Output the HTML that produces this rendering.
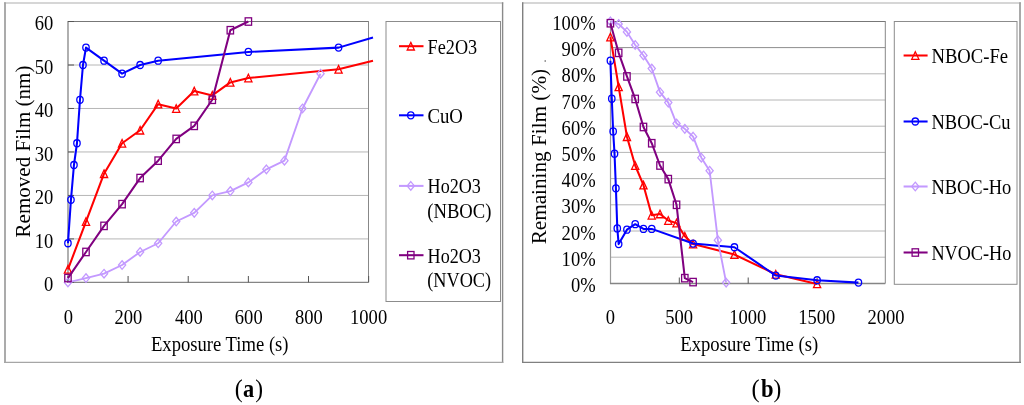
<!DOCTYPE html>
<html><head><meta charset="utf-8"><style>
html,body{margin:0;padding:0;background:#fff;}
svg{display:block;font-family:"Liberation Serif", serif;will-change:transform;}
</style></head><body>
<svg width="1024" height="405" viewBox="0 0 1024 405">
<line x1="4.00" y1="3.00" x2="503.30" y2="3.00" stroke="#c8c8c8" stroke-width="1.6"/>
<line x1="5.00" y1="2.20" x2="5.00" y2="363.00" stroke="#a2a2a2" stroke-width="1.8"/>
<line x1="502.60" y1="2.20" x2="502.60" y2="363.00" stroke="#8a8a8a" stroke-width="1.4"/>
<line x1="4.00" y1="362.30" x2="503.30" y2="362.30" stroke="#a6a6a6" stroke-width="1.3"/>
<line x1="68.00" y1="238.92" x2="368.50" y2="238.92" stroke="#b6b6b6" stroke-width="1"/>
<line x1="68.00" y1="195.44" x2="368.50" y2="195.44" stroke="#b6b6b6" stroke-width="1"/>
<line x1="68.00" y1="151.96" x2="368.50" y2="151.96" stroke="#b6b6b6" stroke-width="1"/>
<line x1="68.00" y1="108.48" x2="368.50" y2="108.48" stroke="#b6b6b6" stroke-width="1"/>
<line x1="68.00" y1="65.00" x2="368.50" y2="65.00" stroke="#b6b6b6" stroke-width="1"/>
<line x1="68.00" y1="21.50" x2="368.50" y2="21.50" stroke="#777" stroke-width="1"/>
<line x1="368.50" y1="21.00" x2="368.50" y2="282.40" stroke="#888" stroke-width="1"/>
<line x1="68.00" y1="21.00" x2="68.00" y2="282.50" stroke="#858585" stroke-width="1.3"/>
<line x1="67.50" y1="282.40" x2="368.50" y2="282.40" stroke="#858585" stroke-width="1.3"/>
<line x1="68.00" y1="282.40" x2="74.00" y2="282.40" stroke="#555" stroke-width="1"/>
<line x1="68.00" y1="238.92" x2="74.00" y2="238.92" stroke="#555" stroke-width="1"/>
<line x1="68.00" y1="195.44" x2="74.00" y2="195.44" stroke="#555" stroke-width="1"/>
<line x1="68.00" y1="151.96" x2="74.00" y2="151.96" stroke="#555" stroke-width="1"/>
<line x1="68.00" y1="108.48" x2="74.00" y2="108.48" stroke="#555" stroke-width="1"/>
<line x1="68.00" y1="65.00" x2="74.00" y2="65.00" stroke="#555" stroke-width="1"/>
<line x1="68.00" y1="21.52" x2="74.00" y2="21.52" stroke="#555" stroke-width="1"/>
<line x1="67.95" y1="282.40" x2="67.95" y2="276.00" stroke="#555" stroke-width="1"/>
<line x1="128.09" y1="282.40" x2="128.09" y2="276.00" stroke="#555" stroke-width="1"/>
<line x1="188.23" y1="282.40" x2="188.23" y2="276.00" stroke="#555" stroke-width="1"/>
<line x1="248.37" y1="282.40" x2="248.37" y2="276.00" stroke="#555" stroke-width="1"/>
<line x1="308.51" y1="282.40" x2="308.51" y2="276.00" stroke="#555" stroke-width="1"/>
<line x1="368.65" y1="282.40" x2="368.65" y2="276.00" stroke="#555" stroke-width="1"/>
<text transform="translate(44.07,291.00) scale(0.8430,1)" font-size="22" font-weight="normal" fill="#000">0</text>
<text transform="translate(34.80,247.52) scale(0.8430,1)" font-size="22" font-weight="normal" fill="#000">10</text>
<text transform="translate(34.80,204.04) scale(0.8430,1)" font-size="22" font-weight="normal" fill="#000">20</text>
<text transform="translate(34.80,160.56) scale(0.8430,1)" font-size="22" font-weight="normal" fill="#000">30</text>
<text transform="translate(34.80,117.08) scale(0.8430,1)" font-size="22" font-weight="normal" fill="#000">40</text>
<text transform="translate(34.80,73.60) scale(0.8430,1)" font-size="22" font-weight="normal" fill="#000">50</text>
<text transform="translate(34.80,30.12) scale(0.8430,1)" font-size="22" font-weight="normal" fill="#000">60</text>
<text transform="translate(63.71,323.60) scale(0.8430,1)" font-size="22" font-weight="normal" fill="#000">0</text>
<text transform="translate(114.53,323.60) scale(0.8430,1)" font-size="22" font-weight="normal" fill="#000">200</text>
<text transform="translate(174.91,323.60) scale(0.8430,1)" font-size="22" font-weight="normal" fill="#000">400</text>
<text transform="translate(234.86,323.60) scale(0.8430,1)" font-size="22" font-weight="normal" fill="#000">600</text>
<text transform="translate(295.00,323.60) scale(0.8430,1)" font-size="22" font-weight="normal" fill="#000">800</text>
<text transform="translate(350.09,323.60) scale(0.8430,1)" font-size="22" font-weight="normal" fill="#000">1000</text>
<text transform="translate(150.94,351.30) scale(0.9089,1)" font-size="20.5" font-weight="normal" fill="#000">Exposure Time (s)</text>
<text transform="translate(29.50,237.43) rotate(-90) scale(1.0030,1.0)" font-size="21" fill="#000">Removed Film (nm)</text>
<polyline points="67.95,269.36 85.99,221.53 104.03,173.70 122.08,143.26 140.12,130.22 158.16,104.13 176.20,108.48 194.24,91.09 212.29,95.44 230.33,82.39 248.37,78.04 338.58,69.35 373.00,60.70" fill="none" stroke="#ff0000" stroke-width="2.05" stroke-linejoin="round" stroke-linecap="butt"/>
<path d="M67.95,265.56 L71.55,273.16 L64.35,273.16 Z" fill="none" stroke="#ff0000" stroke-width="1.3"/>
<path d="M85.99,217.73 L89.59,225.33 L82.39,225.33 Z" fill="none" stroke="#ff0000" stroke-width="1.3"/>
<path d="M104.03,169.90 L107.63,177.50 L100.43,177.50 Z" fill="none" stroke="#ff0000" stroke-width="1.3"/>
<path d="M122.08,139.46 L125.68,147.06 L118.48,147.06 Z" fill="none" stroke="#ff0000" stroke-width="1.3"/>
<path d="M140.12,126.42 L143.72,134.02 L136.52,134.02 Z" fill="none" stroke="#ff0000" stroke-width="1.3"/>
<path d="M158.16,100.33 L161.76,107.93 L154.56,107.93 Z" fill="none" stroke="#ff0000" stroke-width="1.3"/>
<path d="M176.20,104.68 L179.80,112.28 L172.60,112.28 Z" fill="none" stroke="#ff0000" stroke-width="1.3"/>
<path d="M194.24,87.29 L197.84,94.89 L190.64,94.89 Z" fill="none" stroke="#ff0000" stroke-width="1.3"/>
<path d="M212.29,91.64 L215.89,99.24 L208.69,99.24 Z" fill="none" stroke="#ff0000" stroke-width="1.3"/>
<path d="M230.33,78.59 L233.93,86.19 L226.73,86.19 Z" fill="none" stroke="#ff0000" stroke-width="1.3"/>
<path d="M248.37,74.24 L251.97,81.84 L244.77,81.84 Z" fill="none" stroke="#ff0000" stroke-width="1.3"/>
<path d="M338.58,65.55 L342.18,73.15 L334.98,73.15 Z" fill="none" stroke="#ff0000" stroke-width="1.3"/>
<polyline points="67.95,243.27 70.96,199.79 73.96,165.00 76.97,143.26 79.98,99.78 82.98,65.00 85.99,47.61 104.03,60.65 122.08,73.70 140.12,65.00 158.16,60.65 248.37,51.96 338.58,47.61 373.00,37.60" fill="none" stroke="#0000ff" stroke-width="2.05" stroke-linejoin="round" stroke-linecap="butt"/>
<ellipse cx="67.95" cy="243.27" rx="3.2" ry="3.5" fill="none" stroke="#0000ff" stroke-width="1.3"/>
<ellipse cx="70.96" cy="199.79" rx="3.2" ry="3.5" fill="none" stroke="#0000ff" stroke-width="1.3"/>
<ellipse cx="73.96" cy="165.00" rx="3.2" ry="3.5" fill="none" stroke="#0000ff" stroke-width="1.3"/>
<ellipse cx="76.97" cy="143.26" rx="3.2" ry="3.5" fill="none" stroke="#0000ff" stroke-width="1.3"/>
<ellipse cx="79.98" cy="99.78" rx="3.2" ry="3.5" fill="none" stroke="#0000ff" stroke-width="1.3"/>
<ellipse cx="82.98" cy="65.00" rx="3.2" ry="3.5" fill="none" stroke="#0000ff" stroke-width="1.3"/>
<ellipse cx="85.99" cy="47.61" rx="3.2" ry="3.5" fill="none" stroke="#0000ff" stroke-width="1.3"/>
<ellipse cx="104.03" cy="60.65" rx="3.2" ry="3.5" fill="none" stroke="#0000ff" stroke-width="1.3"/>
<ellipse cx="122.08" cy="73.70" rx="3.2" ry="3.5" fill="none" stroke="#0000ff" stroke-width="1.3"/>
<ellipse cx="140.12" cy="65.00" rx="3.2" ry="3.5" fill="none" stroke="#0000ff" stroke-width="1.3"/>
<ellipse cx="158.16" cy="60.65" rx="3.2" ry="3.5" fill="none" stroke="#0000ff" stroke-width="1.3"/>
<ellipse cx="248.37" cy="51.96" rx="3.2" ry="3.5" fill="none" stroke="#0000ff" stroke-width="1.3"/>
<ellipse cx="338.58" cy="47.61" rx="3.2" ry="3.5" fill="none" stroke="#0000ff" stroke-width="1.3"/>
<polyline points="67.95,282.40 85.99,278.05 104.03,273.70 122.08,265.01 140.12,251.96 158.16,243.27 176.20,221.53 194.24,212.83 212.29,195.44 230.33,191.09 248.37,182.40 266.41,169.35 284.45,160.66 302.50,108.48 320.54,73.70" fill="none" stroke="#c399ff" stroke-width="1.8499999999999999" stroke-linejoin="round" stroke-linecap="butt"/>
<path d="M67.95,278.10 L71.55,282.40 L67.95,286.70 L64.35,282.40 Z" fill="none" stroke="#c399ff" stroke-width="1.3"/>
<path d="M85.99,273.75 L89.59,278.05 L85.99,282.35 L82.39,278.05 Z" fill="none" stroke="#c399ff" stroke-width="1.3"/>
<path d="M104.03,269.40 L107.63,273.70 L104.03,278.00 L100.43,273.70 Z" fill="none" stroke="#c399ff" stroke-width="1.3"/>
<path d="M122.08,260.71 L125.68,265.01 L122.08,269.31 L118.48,265.01 Z" fill="none" stroke="#c399ff" stroke-width="1.3"/>
<path d="M140.12,247.66 L143.72,251.96 L140.12,256.26 L136.52,251.96 Z" fill="none" stroke="#c399ff" stroke-width="1.3"/>
<path d="M158.16,238.97 L161.76,243.27 L158.16,247.57 L154.56,243.27 Z" fill="none" stroke="#c399ff" stroke-width="1.3"/>
<path d="M176.20,217.23 L179.80,221.53 L176.20,225.83 L172.60,221.53 Z" fill="none" stroke="#c399ff" stroke-width="1.3"/>
<path d="M194.24,208.53 L197.84,212.83 L194.24,217.13 L190.64,212.83 Z" fill="none" stroke="#c399ff" stroke-width="1.3"/>
<path d="M212.29,191.14 L215.89,195.44 L212.29,199.74 L208.69,195.44 Z" fill="none" stroke="#c399ff" stroke-width="1.3"/>
<path d="M230.33,186.79 L233.93,191.09 L230.33,195.39 L226.73,191.09 Z" fill="none" stroke="#c399ff" stroke-width="1.3"/>
<path d="M248.37,178.10 L251.97,182.40 L248.37,186.70 L244.77,182.40 Z" fill="none" stroke="#c399ff" stroke-width="1.3"/>
<path d="M266.41,165.05 L270.01,169.35 L266.41,173.65 L262.81,169.35 Z" fill="none" stroke="#c399ff" stroke-width="1.3"/>
<path d="M284.45,156.36 L288.05,160.66 L284.45,164.96 L280.85,160.66 Z" fill="none" stroke="#c399ff" stroke-width="1.3"/>
<path d="M302.50,104.18 L306.10,108.48 L302.50,112.78 L298.90,108.48 Z" fill="none" stroke="#c399ff" stroke-width="1.3"/>
<path d="M320.54,69.40 L324.14,73.70 L320.54,78.00 L316.94,73.70 Z" fill="none" stroke="#c399ff" stroke-width="1.3"/>
<polyline points="67.95,278.05 85.99,251.96 104.03,225.88 122.08,204.14 140.12,178.05 158.16,160.66 176.20,138.92 194.24,125.87 212.29,99.78 230.33,30.22 248.37,21.52" fill="none" stroke="#800080" stroke-width="2.05" stroke-linejoin="round" stroke-linecap="butt"/>
<rect x="64.75" y="274.35" width="6.4" height="7.4" fill="none" stroke="#800080" stroke-width="1.3"/>
<rect x="82.79" y="248.26" width="6.4" height="7.4" fill="none" stroke="#800080" stroke-width="1.3"/>
<rect x="100.83" y="222.18" width="6.4" height="7.4" fill="none" stroke="#800080" stroke-width="1.3"/>
<rect x="118.88" y="200.44" width="6.4" height="7.4" fill="none" stroke="#800080" stroke-width="1.3"/>
<rect x="136.92" y="174.35" width="6.4" height="7.4" fill="none" stroke="#800080" stroke-width="1.3"/>
<rect x="154.96" y="156.96" width="6.4" height="7.4" fill="none" stroke="#800080" stroke-width="1.3"/>
<rect x="173.00" y="135.22" width="6.4" height="7.4" fill="none" stroke="#800080" stroke-width="1.3"/>
<rect x="191.04" y="122.17" width="6.4" height="7.4" fill="none" stroke="#800080" stroke-width="1.3"/>
<rect x="209.09" y="96.08" width="6.4" height="7.4" fill="none" stroke="#800080" stroke-width="1.3"/>
<rect x="227.13" y="26.52" width="6.4" height="7.4" fill="none" stroke="#800080" stroke-width="1.3"/>
<rect x="245.17" y="17.82" width="6.4" height="7.4" fill="none" stroke="#800080" stroke-width="1.3"/>
<rect x="386" y="21.5" width="114.5" height="280" fill="none" stroke="#8c8c8c" stroke-width="1"/>
<line x1="399.00" y1="46.20" x2="423.50" y2="46.20" stroke="#ff0000" stroke-width="2.05"/>
<path d="M410.80,42.40 L414.40,50.00 L407.20,50.00 Z" fill="none" stroke="#ff0000" stroke-width="1.3"/>
<text transform="translate(427.55,53.50) scale(0.8477,1)" font-size="21.5" font-weight="normal" fill="#000">Fe2O3</text>
<line x1="399.00" y1="115.30" x2="423.50" y2="115.30" stroke="#0000ff" stroke-width="2.05"/>
<ellipse cx="410.80" cy="115.30" rx="3.2" ry="3.5" fill="none" stroke="#0000ff" stroke-width="1.3"/>
<text transform="translate(427.45,122.80) scale(0.8735,1)" font-size="21.5" font-weight="normal" fill="#000">CuO</text>
<line x1="399.00" y1="185.90" x2="423.50" y2="185.90" stroke="#c399ff" stroke-width="2.05"/>
<path d="M410.80,181.60 L414.40,185.90 L410.80,190.20 L407.20,185.90 Z" fill="none" stroke="#c399ff" stroke-width="1.3"/>
<text transform="translate(427.56,193.40) scale(0.8429,1)" font-size="21.5" font-weight="normal" fill="#000">Ho2O3</text>
<text transform="translate(427.26,218.10) scale(0.8678,1)" font-size="21.5" font-weight="normal" fill="#000">(NBOC)</text>
<line x1="399.00" y1="255.20" x2="423.50" y2="255.20" stroke="#800080" stroke-width="2.05"/>
<rect x="407.60" y="251.50" width="6.4" height="7.4" fill="none" stroke="#800080" stroke-width="1.3"/>
<text transform="translate(427.56,262.70) scale(0.8429,1)" font-size="21.5" font-weight="normal" fill="#000">Ho2O3</text>
<text transform="translate(427.28,287.20) scale(0.8484,1)" font-size="21.5" font-weight="normal" fill="#000">(NVOC)</text>
<line x1="522.00" y1="3.00" x2="1021.00" y2="3.00" stroke="#c8c8c8" stroke-width="1.6"/>
<line x1="522.70" y1="2.20" x2="522.70" y2="363.00" stroke="#808080" stroke-width="1.4"/>
<line x1="1020.00" y1="2.20" x2="1020.00" y2="363.00" stroke="#a0a0a0" stroke-width="1.8"/>
<line x1="522.00" y1="362.40" x2="1021.00" y2="362.40" stroke="#808080" stroke-width="1.4"/>
<line x1="610.40" y1="257.20" x2="885.30" y2="257.20" stroke="#b6b6b6" stroke-width="1"/>
<line x1="610.40" y1="231.00" x2="885.30" y2="231.00" stroke="#b6b6b6" stroke-width="1"/>
<line x1="610.40" y1="204.80" x2="885.30" y2="204.80" stroke="#b6b6b6" stroke-width="1"/>
<line x1="610.40" y1="178.60" x2="885.30" y2="178.60" stroke="#b6b6b6" stroke-width="1"/>
<line x1="610.40" y1="152.40" x2="885.30" y2="152.40" stroke="#b6b6b6" stroke-width="1"/>
<line x1="610.40" y1="126.20" x2="885.30" y2="126.20" stroke="#b6b6b6" stroke-width="1"/>
<line x1="610.40" y1="100.00" x2="885.30" y2="100.00" stroke="#b6b6b6" stroke-width="1"/>
<line x1="610.40" y1="73.80" x2="885.30" y2="73.80" stroke="#b6b6b6" stroke-width="1"/>
<line x1="610.40" y1="47.60" x2="885.30" y2="47.60" stroke="#8e8e8e" stroke-width="1"/>
<line x1="610.40" y1="21.50" x2="885.30" y2="21.50" stroke="#777" stroke-width="1"/>
<line x1="885.30" y1="21.00" x2="885.30" y2="283.50" stroke="#888" stroke-width="1"/>
<line x1="610.50" y1="21.00" x2="610.50" y2="284.00" stroke="#9a9a9a" stroke-width="1.2"/>
<line x1="610.00" y1="283.50" x2="885.30" y2="283.50" stroke="#858585" stroke-width="1.3"/>
<line x1="679.30" y1="283.50" x2="679.30" y2="277.50" stroke="#555" stroke-width="1"/>
<line x1="748.20" y1="283.50" x2="748.20" y2="277.50" stroke="#555" stroke-width="1"/>
<line x1="817.10" y1="283.50" x2="817.10" y2="277.50" stroke="#555" stroke-width="1"/>
<text transform="translate(570.89,292.00) scale(0.8430,1)" font-size="22" font-weight="normal" fill="#000">0%</text>
<text transform="translate(561.62,265.80) scale(0.8430,1)" font-size="22" font-weight="normal" fill="#000">10%</text>
<text transform="translate(561.62,239.60) scale(0.8430,1)" font-size="22" font-weight="normal" fill="#000">20%</text>
<text transform="translate(561.62,213.40) scale(0.8430,1)" font-size="22" font-weight="normal" fill="#000">30%</text>
<text transform="translate(561.62,187.20) scale(0.8430,1)" font-size="22" font-weight="normal" fill="#000">40%</text>
<text transform="translate(561.62,161.00) scale(0.8430,1)" font-size="22" font-weight="normal" fill="#000">50%</text>
<text transform="translate(561.62,134.80) scale(0.8430,1)" font-size="22" font-weight="normal" fill="#000">60%</text>
<text transform="translate(561.62,108.60) scale(0.8430,1)" font-size="22" font-weight="normal" fill="#000">70%</text>
<text transform="translate(561.62,82.40) scale(0.8430,1)" font-size="22" font-weight="normal" fill="#000">80%</text>
<text transform="translate(561.62,56.20) scale(0.8430,1)" font-size="22" font-weight="normal" fill="#000">90%</text>
<text transform="translate(552.34,30.00) scale(0.8430,1)" font-size="22" font-weight="normal" fill="#000">100%</text>
<text transform="translate(605.76,324.00) scale(0.8430,1)" font-size="22" font-weight="normal" fill="#000">0</text>
<text transform="translate(665.21,324.00) scale(0.8430,1)" font-size="22" font-weight="normal" fill="#000">500</text>
<text transform="translate(729.24,324.00) scale(0.8430,1)" font-size="22" font-weight="normal" fill="#000">1000</text>
<text transform="translate(798.14,324.00) scale(0.8430,1)" font-size="22" font-weight="normal" fill="#000">1500</text>
<text transform="translate(867.41,324.00) scale(0.8430,1)" font-size="22" font-weight="normal" fill="#000">2000</text>
<text transform="translate(680.24,351.30) scale(0.9116,1)" font-size="20.5" font-weight="normal" fill="#000">Exposure Time (s)</text>
<text transform="translate(546.30,244.34) rotate(-90) scale(1.0104,1.0)" font-size="21" fill="#000">Remaining Film (%)</text>
<circle cx="545.2" cy="61" r="0.8" fill="#555"/>
<polyline points="610.40,37.12 618.67,86.90 626.94,136.68 635.20,165.50 643.47,185.15 651.74,215.28 660.01,213.97 668.28,220.52 676.54,223.14 684.81,236.24 693.08,244.10 734.42,254.58 775.76,274.23 817.10,283.92" fill="none" stroke="#ff0000" stroke-width="2.05" stroke-linejoin="round" stroke-linecap="butt"/>
<path d="M610.40,33.32 L614.00,40.92 L606.80,40.92 Z" fill="none" stroke="#ff0000" stroke-width="1.3"/>
<path d="M618.67,83.10 L622.27,90.70 L615.07,90.70 Z" fill="none" stroke="#ff0000" stroke-width="1.3"/>
<path d="M626.94,132.88 L630.54,140.48 L623.34,140.48 Z" fill="none" stroke="#ff0000" stroke-width="1.3"/>
<path d="M635.20,161.70 L638.80,169.30 L631.60,169.30 Z" fill="none" stroke="#ff0000" stroke-width="1.3"/>
<path d="M643.47,181.35 L647.07,188.95 L639.87,188.95 Z" fill="none" stroke="#ff0000" stroke-width="1.3"/>
<path d="M651.74,211.48 L655.34,219.08 L648.14,219.08 Z" fill="none" stroke="#ff0000" stroke-width="1.3"/>
<path d="M660.01,210.17 L663.61,217.77 L656.41,217.77 Z" fill="none" stroke="#ff0000" stroke-width="1.3"/>
<path d="M668.28,216.72 L671.88,224.32 L664.68,224.32 Z" fill="none" stroke="#ff0000" stroke-width="1.3"/>
<path d="M676.54,219.34 L680.14,226.94 L672.94,226.94 Z" fill="none" stroke="#ff0000" stroke-width="1.3"/>
<path d="M684.81,232.44 L688.41,240.04 L681.21,240.04 Z" fill="none" stroke="#ff0000" stroke-width="1.3"/>
<path d="M693.08,240.30 L696.68,247.90 L689.48,247.90 Z" fill="none" stroke="#ff0000" stroke-width="1.3"/>
<path d="M734.42,250.78 L738.02,258.38 L730.82,258.38 Z" fill="none" stroke="#ff0000" stroke-width="1.3"/>
<path d="M775.76,270.43 L779.36,278.03 L772.16,278.03 Z" fill="none" stroke="#ff0000" stroke-width="1.3"/>
<path d="M817.10,280.12 L820.70,287.72 L813.50,287.72 Z" fill="none" stroke="#ff0000" stroke-width="1.3"/>
<polyline points="610.40,60.70 611.78,98.69 613.16,131.44 614.53,153.71 615.91,188.29 617.29,228.38 618.67,244.10 626.94,229.69 635.20,224.19 643.47,228.90 651.74,228.90 693.08,243.58 734.42,247.24 775.76,275.54 817.10,280.26 858.44,282.61" fill="none" stroke="#0000ff" stroke-width="2.05" stroke-linejoin="round" stroke-linecap="butt"/>
<ellipse cx="610.40" cy="60.70" rx="3.2" ry="3.5" fill="none" stroke="#0000ff" stroke-width="1.3"/>
<ellipse cx="611.78" cy="98.69" rx="3.2" ry="3.5" fill="none" stroke="#0000ff" stroke-width="1.3"/>
<ellipse cx="613.16" cy="131.44" rx="3.2" ry="3.5" fill="none" stroke="#0000ff" stroke-width="1.3"/>
<ellipse cx="614.53" cy="153.71" rx="3.2" ry="3.5" fill="none" stroke="#0000ff" stroke-width="1.3"/>
<ellipse cx="615.91" cy="188.29" rx="3.2" ry="3.5" fill="none" stroke="#0000ff" stroke-width="1.3"/>
<ellipse cx="617.29" cy="228.38" rx="3.2" ry="3.5" fill="none" stroke="#0000ff" stroke-width="1.3"/>
<ellipse cx="618.67" cy="244.10" rx="3.2" ry="3.5" fill="none" stroke="#0000ff" stroke-width="1.3"/>
<ellipse cx="626.94" cy="229.69" rx="3.2" ry="3.5" fill="none" stroke="#0000ff" stroke-width="1.3"/>
<ellipse cx="635.20" cy="224.19" rx="3.2" ry="3.5" fill="none" stroke="#0000ff" stroke-width="1.3"/>
<ellipse cx="643.47" cy="228.90" rx="3.2" ry="3.5" fill="none" stroke="#0000ff" stroke-width="1.3"/>
<ellipse cx="651.74" cy="228.90" rx="3.2" ry="3.5" fill="none" stroke="#0000ff" stroke-width="1.3"/>
<ellipse cx="693.08" cy="243.58" rx="3.2" ry="3.5" fill="none" stroke="#0000ff" stroke-width="1.3"/>
<ellipse cx="734.42" cy="247.24" rx="3.2" ry="3.5" fill="none" stroke="#0000ff" stroke-width="1.3"/>
<ellipse cx="775.76" cy="275.54" rx="3.2" ry="3.5" fill="none" stroke="#0000ff" stroke-width="1.3"/>
<ellipse cx="817.10" cy="280.26" rx="3.2" ry="3.5" fill="none" stroke="#0000ff" stroke-width="1.3"/>
<ellipse cx="858.44" cy="282.61" rx="3.2" ry="3.5" fill="none" stroke="#0000ff" stroke-width="1.3"/>
<polyline points="610.40,21.40 618.67,24.02 626.94,31.88 635.20,44.98 643.47,55.46 651.74,68.56 660.01,92.14 668.28,102.62 676.54,123.58 684.81,128.82 693.08,136.68 701.35,157.64 709.62,170.74 717.88,240.17 726.15,282.61" fill="none" stroke="#c399ff" stroke-width="1.8499999999999999" stroke-linejoin="round" stroke-linecap="butt"/>
<path d="M610.40,17.10 L614.00,21.40 L610.40,25.70 L606.80,21.40 Z" fill="none" stroke="#c399ff" stroke-width="1.3"/>
<path d="M618.67,19.72 L622.27,24.02 L618.67,28.32 L615.07,24.02 Z" fill="none" stroke="#c399ff" stroke-width="1.3"/>
<path d="M626.94,27.58 L630.54,31.88 L626.94,36.18 L623.34,31.88 Z" fill="none" stroke="#c399ff" stroke-width="1.3"/>
<path d="M635.20,40.68 L638.80,44.98 L635.20,49.28 L631.60,44.98 Z" fill="none" stroke="#c399ff" stroke-width="1.3"/>
<path d="M643.47,51.16 L647.07,55.46 L643.47,59.76 L639.87,55.46 Z" fill="none" stroke="#c399ff" stroke-width="1.3"/>
<path d="M651.74,64.26 L655.34,68.56 L651.74,72.86 L648.14,68.56 Z" fill="none" stroke="#c399ff" stroke-width="1.3"/>
<path d="M660.01,87.84 L663.61,92.14 L660.01,96.44 L656.41,92.14 Z" fill="none" stroke="#c399ff" stroke-width="1.3"/>
<path d="M668.28,98.32 L671.88,102.62 L668.28,106.92 L664.68,102.62 Z" fill="none" stroke="#c399ff" stroke-width="1.3"/>
<path d="M676.54,119.28 L680.14,123.58 L676.54,127.88 L672.94,123.58 Z" fill="none" stroke="#c399ff" stroke-width="1.3"/>
<path d="M684.81,124.52 L688.41,128.82 L684.81,133.12 L681.21,128.82 Z" fill="none" stroke="#c399ff" stroke-width="1.3"/>
<path d="M693.08,132.38 L696.68,136.68 L693.08,140.98 L689.48,136.68 Z" fill="none" stroke="#c399ff" stroke-width="1.3"/>
<path d="M701.35,153.34 L704.95,157.64 L701.35,161.94 L697.75,157.64 Z" fill="none" stroke="#c399ff" stroke-width="1.3"/>
<path d="M709.62,166.44 L713.22,170.74 L709.62,175.04 L706.02,170.74 Z" fill="none" stroke="#c399ff" stroke-width="1.3"/>
<path d="M717.88,235.87 L721.48,240.17 L717.88,244.47 L714.28,240.17 Z" fill="none" stroke="#c399ff" stroke-width="1.3"/>
<path d="M726.15,278.31 L729.75,282.61 L726.15,286.91 L722.55,282.61 Z" fill="none" stroke="#c399ff" stroke-width="1.3"/>
<polyline points="610.40,23.23 618.67,52.84 626.94,76.42 635.20,98.95 643.47,126.99 651.74,143.23 660.01,165.50 668.28,179.12 676.54,204.80 684.81,278.16 693.08,282.09" fill="none" stroke="#800080" stroke-width="2.05" stroke-linejoin="round" stroke-linecap="butt"/>
<rect x="607.20" y="19.53" width="6.4" height="7.4" fill="none" stroke="#800080" stroke-width="1.3"/>
<rect x="615.47" y="49.14" width="6.4" height="7.4" fill="none" stroke="#800080" stroke-width="1.3"/>
<rect x="623.74" y="72.72" width="6.4" height="7.4" fill="none" stroke="#800080" stroke-width="1.3"/>
<rect x="632.00" y="95.25" width="6.4" height="7.4" fill="none" stroke="#800080" stroke-width="1.3"/>
<rect x="640.27" y="123.29" width="6.4" height="7.4" fill="none" stroke="#800080" stroke-width="1.3"/>
<rect x="648.54" y="139.53" width="6.4" height="7.4" fill="none" stroke="#800080" stroke-width="1.3"/>
<rect x="656.81" y="161.80" width="6.4" height="7.4" fill="none" stroke="#800080" stroke-width="1.3"/>
<rect x="665.08" y="175.42" width="6.4" height="7.4" fill="none" stroke="#800080" stroke-width="1.3"/>
<rect x="673.34" y="201.10" width="6.4" height="7.4" fill="none" stroke="#800080" stroke-width="1.3"/>
<rect x="681.61" y="274.46" width="6.4" height="7.4" fill="none" stroke="#800080" stroke-width="1.3"/>
<rect x="689.88" y="278.39" width="6.4" height="7.4" fill="none" stroke="#800080" stroke-width="1.3"/>
<rect x="894.3" y="21.5" width="122.7" height="262.8" fill="none" stroke="#8c8c8c" stroke-width="1"/>
<line x1="903.60" y1="55.50" x2="927.60" y2="55.50" stroke="#ff0000" stroke-width="2.05"/>
<path d="M915.30,51.70 L918.90,59.30 L911.70,59.30 Z" fill="none" stroke="#ff0000" stroke-width="1.3"/>
<text transform="translate(931.44,62.60) scale(0.8682,1)" font-size="21.5" font-weight="normal" fill="#000">NBOC-Fe</text>
<line x1="903.60" y1="121.50" x2="927.60" y2="121.50" stroke="#0000ff" stroke-width="2.05"/>
<ellipse cx="915.30" cy="121.50" rx="3.2" ry="3.5" fill="none" stroke="#0000ff" stroke-width="1.3"/>
<text transform="translate(931.45,128.60) scale(0.8599,1)" font-size="21.5" font-weight="normal" fill="#000">NBOC-Cu</text>
<line x1="903.60" y1="186.50" x2="927.60" y2="186.50" stroke="#c399ff" stroke-width="2.05"/>
<path d="M915.30,182.20 L918.90,186.50 L915.30,190.80 L911.70,186.50 Z" fill="none" stroke="#c399ff" stroke-width="1.3"/>
<text transform="translate(931.45,193.60) scale(0.8572,1)" font-size="21.5" font-weight="normal" fill="#000">NBOC-Ho</text>
<line x1="903.60" y1="252.50" x2="927.60" y2="252.50" stroke="#800080" stroke-width="2.05"/>
<rect x="912.10" y="248.80" width="6.4" height="7.4" fill="none" stroke="#800080" stroke-width="1.3"/>
<text transform="translate(931.45,259.60) scale(0.8463,1)" font-size="21.5" font-weight="normal" fill="#000">NVOC-Ho</text>
<text transform="translate(234.82,397.10) scale(0.9844,1)" font-size="24.3" font-weight="normal" fill="#000">(</text>
<text transform="translate(242.93,397.10) scale(0.9225,1)" font-size="24.3" font-weight="bold" fill="#000">a</text>
<text transform="translate(255.20,397.10) scale(0.9655,1)" font-size="24.3" font-weight="normal" fill="#000">)</text>
<text transform="translate(751.51,397.10) scale(1.0006,1)" font-size="24.3" font-weight="normal" fill="#000">(</text>
<text transform="translate(761.07,397.10) scale(0.9290,1)" font-size="24.3" font-weight="bold" fill="#000">b</text>
<text transform="translate(773.60,397.10) scale(0.9655,1)" font-size="24.3" font-weight="normal" fill="#000">)</text>
</svg></body></html>
